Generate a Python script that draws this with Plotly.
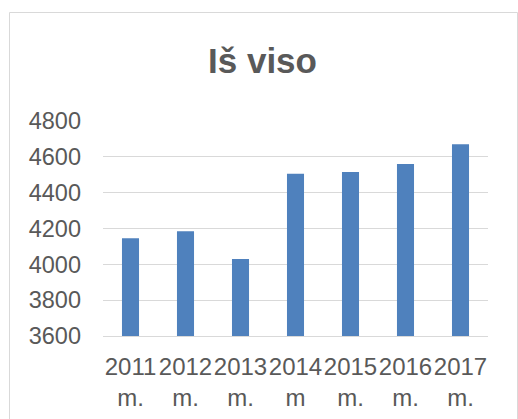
import plotly.graph_objects as go

categories = ["2011<br>m.", "2012<br>m.", "2013<br>m.", "2014<br>m", "2015<br>m.", "2016<br>m.", "2017<br>m."]
values = [4145, 4185, 4030, 4505, 4515, 4560, 4670]
y_ticks = [3600, 3800, 4000, 4200, 4400, 4600, 4800]

FONT = "Liberation Sans, Arial, Helvetica, sans-serif"
GRAY = "#595959"

fig = go.Figure()
fig.add_trace(go.Bar(x=categories, y=values, marker=dict(color="#4F81BD", line=dict(width=0))))

L, R, T, B = 103, 30, 121, 83
W, H = 518, 419
pw, ph = W - L - R, H - T - B

def px_x(p):
    return (p - L) / pw

def px_y(p):
    return (H - B - p) / ph

fig.update_layout(
    width=W, height=H,
    margin=dict(l=L, r=R, t=T, b=B),
    paper_bgcolor="white", plot_bgcolor="white",
    bargap=0.69,
    showlegend=False,
    font=dict(family=FONT, color=GRAY),
    xaxis=dict(
        showgrid=False, showline=True, linecolor="#d9d9d9", linewidth=1.3,
        tickfont=dict(size=24, color=GRAY, family=FONT),
        ticks="", ticklabelstandoff=9, fixedrange=True,
        tickangle=0, automargin=False,
    ),
    yaxis=dict(
        range=[3600, 4800], tickvals=y_ticks,
        showgrid=True, gridcolor="#d9d9d9", gridwidth=1.3,
        showline=False, zeroline=False,
        tickfont=dict(size=23.5, color=GRAY, family=FONT),
        ticks="", ticklabelstandoff=21, automargin=False,
    ),
    shapes=[dict(
        type="rect", xref="paper", yref="paper",
        x0=px_x(9.5), x1=px_x(517.5), y0=px_y(440), y1=px_y(12.5),
        line=dict(color="#d9d9d9", width=1), fillcolor="rgba(0,0,0,0)", layer="below",
    )],
    annotations=[dict(
        text="<b>Iš viso</b>", xref="paper", yref="paper",
        x=px_x(262), y=px_y(60), xanchor="center", yanchor="middle",
        showarrow=False, font=dict(size=35, color=GRAY, family=FONT),
    )],
)

fig.write_html("out.html")
